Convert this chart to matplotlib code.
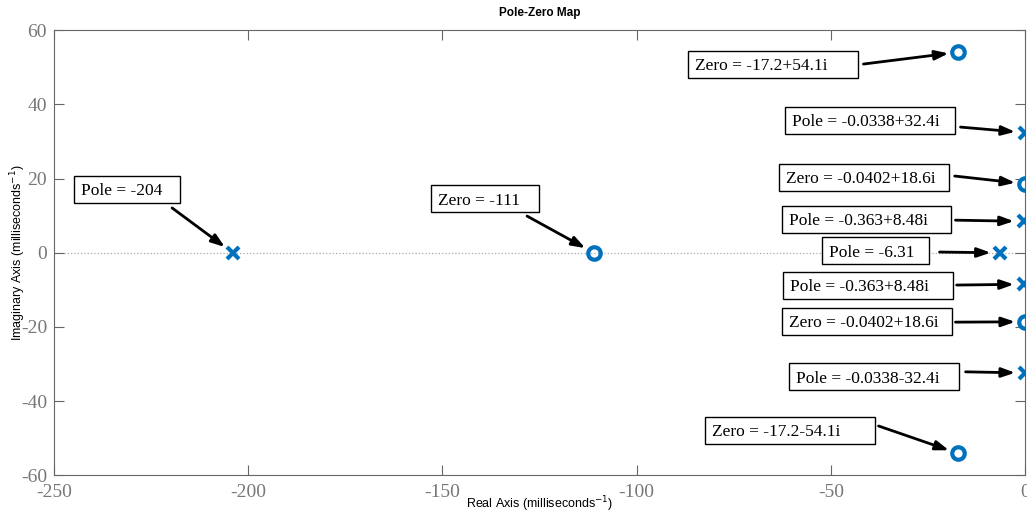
import matplotlib
matplotlib.use('Agg')
import matplotlib.pyplot as plt
from matplotlib.patches import Rectangle

plt.rcParams['axes.unicode_minus'] = False

# poles and zeros (milliseconds^-1)
pole_re = [-204, -6.31, -0.363, -0.363, -0.0338, -0.0338]
pole_im = [0, 0, 8.48, -8.48, 32.4, -32.4]
zero_re = [-111, -17.2, -17.2, -0.0402, -0.0402]
zero_im = [0, 54.1, -54.1, 18.6, -18.6]

# labels: text, point it refers to
labels = ['Zero = -17.2+54.1i', 'Pole = -0.0338+32.4i', 'Zero = -0.0402+18.6i',
          'Pole = -0.363+8.48i', 'Pole = -6.31', 'Pole = -0.363+8.48i',
          'Zero = -0.0402+18.6i', 'Pole = -0.0338-32.4i', 'Zero = -17.2-54.1i',
          'Pole = -204', 'Zero = -111']
label_re = [-17.2, -0.0338, -0.0402, -0.363, -6.31, -0.363, -0.0402, -0.0338, -17.2, -204, -111]
label_im = [54.1, 32.4, 18.6, 8.48, 0, -8.48, -18.6, -32.4, -54.1, 0, 0]

# layout of the text boxes (box left, box centre y, box width) and arrow tails
box_left = [-86.7, -61.9, -63.4, -62.6, -52.2, -62.4, -62.6, -60.8, -82.5, -244.9, -152.9]
box_y = [50.8, 35.7, 20.4, 9.0, 0.6, -8.8, -18.5, -33.4, -47.8, 17.1, 14.6]
box_w = [43.8, 43.8, 43.8, 43.6, 27.6, 43.8, 43.8, 43.8, 43.8, 27.3, 27.8]
tail_x = [-41.6, -16.6, -18.1, -17.9, -22.0, -17.6, -17.9, -15.3, -37.7, -219.6, -128.2]
tail_y = [50.9, 33.9, 20.7, 8.8, 0.2, -8.7, -18.7, -32.1, -46.7, 12.1, 9.9]
box_h = 7.3

blue = '#0072BD'
gray = '#666666'

fig = plt.figure(figsize=(10.27, 5.19), dpi=100)
ax = fig.add_axes([54 / 1027, 1 - 475.3 / 519, 971 / 1027, 445 / 519])

ax.axhline(0, color='#aaaaaa', ls=':', lw=0.9, zorder=1)
ax.plot(pole_re, pole_im, 'x', color=blue, ms=8, mew=3, zorder=3)
ax.plot(zero_re, zero_im, 'o', color=blue, mfc='none', ms=9, mew=3, zorder=3)

for i in range(len(labels)):
    ax.annotate('', xy=(label_re[i], label_im[i]), xytext=(tail_x[i], tail_y[i]),
                arrowprops=dict(arrowstyle='-|>,head_length=0.8,head_width=0.28',
                                color='k', lw=2, shrinkA=0, shrinkB=7),
                zorder=4)
    ax.add_patch(Rectangle((box_left[i], box_y[i] - box_h / 2), box_w[i], box_h,
                           facecolor='white', edgecolor='k', lw=1, zorder=5,
                           clip_on=False))
    ax.text(box_left[i] + 1.8, box_y[i], labels[i], family='Liberation Serif',
            fontsize=12.5, ha='left', va='center_baseline', zorder=6)

ax.set_xlim(-250, 0)
ax.set_ylim(-60, 60)
ax.set_xticks(range(-250, 1, 50))
ax.set_yticks(range(-60, 61, 20))

for sp in ax.spines.values():
    sp.set_color(gray)
ax.tick_params(direction='in', length=7.5, color=gray, labelcolor='#777777',
               top=True, right=True, labelsize=14)
ax.tick_params(axis='x', pad=6)
ax.tick_params(axis='y', pad=5)
for lab in ax.get_xticklabels() + ax.get_yticklabels():
    lab.set_family('Liberation Serif')

ax.set_title('Pole-Zero Map', family='Liberation Sans', fontsize=8.5,
             fontweight='bold', pad=10)
ax.set_xlabel('Real Axis (milliseconds$^{-1}$)', family='Liberation Sans', fontsize=9)
ax.set_ylabel('Imaginary Axis (milliseconds$^{-1}$)', family='Liberation Sans', fontsize=9)
ax.xaxis.set_label_coords(0.5, -0.043)
ax.yaxis.set_label_coords(-0.027, 0.5)

fig.savefig('out.png', dpi=100)
